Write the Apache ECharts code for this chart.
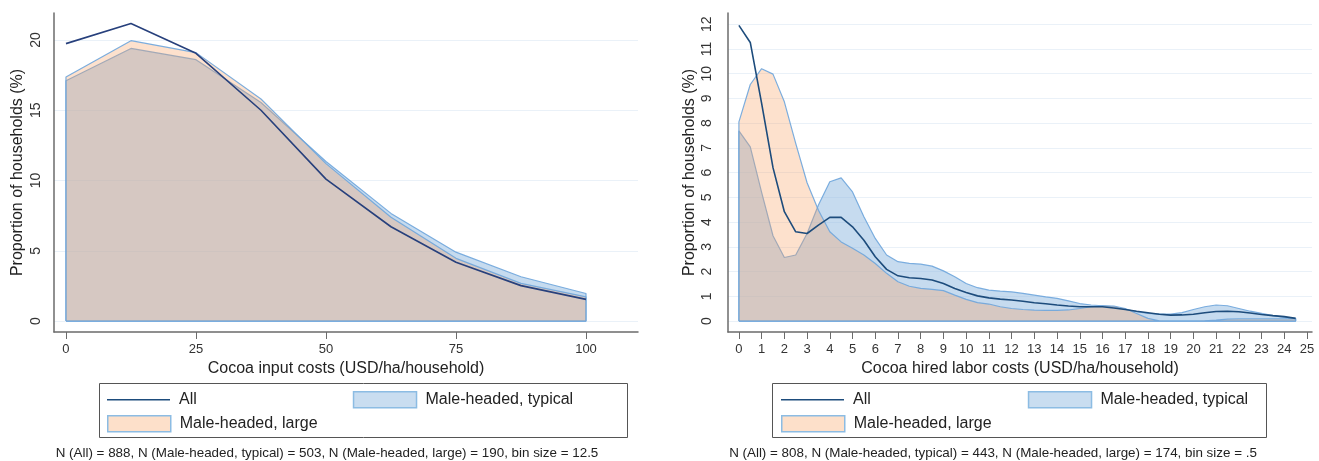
<!DOCTYPE html>
<html>
<head>
<meta charset="utf-8">
<script src="https://cdn.jsdelivr.net/npm/echarts@6/dist/echarts.min.js"></script>
<style>
  html, body { margin: 0; padding: 0; background: #fff; }
  #chart { width: 1319px; height: 461px; }
</style>
</head>
<body>
<div id="chart"></div>
<script>
// left panel: cocoa input costs, bin size 12.5
var inputBins = [0, 12.5, 25, 37.5, 50, 62.5, 75, 87.5, 100];
var inputAll = [19.74, 21.17, 19.05, 15.0, 10.1, 6.71, 4.18, 2.52, 1.54];
var inputTypical = [17.1, 19.4, 18.6, 15.55, 11.35, 7.66, 4.9, 3.15, 1.96];
var inputLarge = [17.37, 19.95, 19.1, 15.8, 11.2, 7.38, 4.46, 2.68, 1.72];
var inputXTicks = [0, 25, 50, 75, 100];
var inputYTicks = [0, 5, 10, 15, 20];

// right panel: cocoa hired labor costs, bin size .5
var laborBins = [0, 0.5, 1, 1.5, 2, 2.5, 3, 3.5, 4, 4.5, 5, 5.5, 6, 6.5, 7, 7.5, 8, 8.5, 9, 9.5,
  10, 10.5, 11, 11.5, 12, 12.5, 13, 13.5, 14, 14.5, 15, 15.5, 16, 16.5, 17, 17.5, 18, 18.5, 19, 19.5,
  20, 20.5, 21, 21.5, 22, 22.5, 23, 23.5, 24, 24.5];
var laborAll = [11.95, 11.26, 8.8, 6.2, 4.42, 3.61, 3.54, 3.88, 4.19, 4.19, 3.81, 3.27, 2.6, 2.09, 1.83, 1.75, 1.72, 1.66, 1.52, 1.32,
  1.16, 1.02, 0.94, 0.89, 0.85, 0.8, 0.74, 0.7, 0.65, 0.61, 0.58, 0.58, 0.58, 0.53, 0.47, 0.4, 0.34, 0.28, 0.24, 0.25,
  0.28, 0.34, 0.39, 0.4, 0.38, 0.33, 0.27, 0.22, 0.18, 0.11];
var laborTypical = [7.69, 7.04, 5.2, 3.45, 2.57, 2.67, 3.54, 4.69, 5.63, 5.79, 5.22, 4.22, 3.34, 2.67, 2.4, 2.33, 2.3, 2.22, 2.03, 1.79,
  1.52, 1.35, 1.25, 1.21, 1.18, 1.12, 1.05, 0.98, 0.92, 0.82, 0.71, 0.65, 0.62, 0.58, 0.48, 0.38, 0.31, 0.28, 0.28, 0.34,
  0.47, 0.58, 0.65, 0.62, 0.51, 0.4, 0.31, 0.22, 0.15, 0.11];
var laborLarge = [8.05, 9.56, 10.2, 9.98, 8.86, 7.18, 5.59, 4.48, 3.61, 3.2, 2.94, 2.67, 2.33, 1.93, 1.59, 1.41, 1.32, 1.28, 1.23, 1.05,
  0.88, 0.75, 0.69, 0.58, 0.51, 0.47, 0.44, 0.43, 0.43, 0.45, 0.51, 0.58, 0.62, 0.61, 0.51, 0.31, 0.11, 0.01, 0, 0,
  0, 0.01, 0.04, 0.08, 0.09, 0.09, 0.09, 0.09, 0.09, 0.1];
var laborXTicks = [0, 1, 2, 3, 4, 5, 6, 7, 8, 9, 10, 11, 12, 13, 14, 15, 16, 17, 18, 19, 20, 21, 22, 23, 24, 25];
var laborYTicks = [0, 1, 2, 3, 4, 5, 6, 7, 8, 9, 10, 11, 12];

var FONT = '"Liberation Sans", Arial, sans-serif';
var BLUE_FILL = 'rgba(141,183,223,0.5)';
var ORANGE_FILL = 'rgba(249,163,100,0.32)';
var EDGE = 'rgba(110,165,220,0.9)';

function pairs(xs, ys) {
    return xs.map(function (x, i) { return [x, ys[i]]; });
}

// closed outline: up the first bin, along the values, down the last bin, back on the baseline
function areaData(xs, ys) {
    var last = xs[xs.length - 1];
    return [[xs[0], 0]].concat(pairs(xs, ys), [[last, 0], [xs[0], 0]]);
}

function areaSeries(name, idx, data, fill, z) {
    return {
        name: name, type: 'line', xAxisIndex: idx, yAxisIndex: idx,
        data: data, symbol: 'none', showSymbol: false, z: z,
        lineStyle: { color: EDGE, width: 1.2 },
        itemStyle: { color: EDGE },
        areaStyle: { color: fill, origin: 0, opacity: 1 }
    };
}

function lineSeries(idx, data, color) {
    return {
        name: 'All', type: 'line', xAxisIndex: idx, yAxisIndex: idx,
        data: data, symbol: 'none', showSymbol: false, z: 5,
        lineStyle: { color: color, width: 1.6 },
        itemStyle: { color: color }
    };
}

function xAxis(idx, min, max, ticks, name) {
    return {
        type: 'value', gridIndex: idx, min: min, max: max,
        name: name, nameLocation: 'middle', nameGap: 27,
        nameTextStyle: { fontFamily: FONT, fontSize: 16, color: '#222' },
        axisLine: { onZero: false, lineStyle: { color: '#6b6b6b', width: 1.5 } },
        axisTick: { show: true, length: 7, customValues: ticks, lineStyle: { color: '#6b6b6b' } },
        axisLabel: { customValues: ticks, margin: 11, fontFamily: FONT, fontSize: 13, color: '#333' },
        splitLine: { show: false }
    };
}

function yAxis(idx, min, max, ticks, margin, gap) {
    return {
        type: 'value', gridIndex: idx, min: min, max: max,
        name: 'Proportion of households (%)', nameLocation: 'middle', nameGap: gap,
        nameTextStyle: { fontFamily: FONT, fontSize: 16, color: '#222' },
        axisLine: { show: true, onZero: false, lineStyle: { color: '#6b6b6b', width: 1.5 } },
        axisTick: { show: false, customValues: ticks },
        axisLabel: { customValues: ticks, rotate: 90, margin: margin, fontFamily: FONT, fontSize: 14, color: '#333' },
        splitLine: { show: true, lineStyle: { color: '#eaf1f8', width: 1 } }
    };
}

function legendRow(left, top, names, gap) {
    return {
        left: left, top: top, orient: 'horizontal', padding: 0,
        itemGap: gap, itemWidth: 63, itemHeight: 16, selectedMode: false,
        textStyle: { fontFamily: FONT, fontSize: 16, color: '#222', padding: [0, 0, 0, 4] },
        data: names
    };
}

// plain line swatch for "All" (no marker)
var allItem = { name: 'All', icon: 'path://M0,0L63,0L63,1.6L0,1.6Z', itemStyle: { color: '#1d4c7c' } };
var typicalItem = { name: 'Male-headed, typical', icon: 'rect',
    itemStyle: { color: '#c9ddf0', borderColor: '#8cbce3', borderWidth: 1.5 } };
var largeItem = { name: 'Male-headed, large', icon: 'rect',
    itemStyle: { color: '#fde0ca', borderColor: '#8cbce3', borderWidth: 1.5 } };

var chart = echarts.init(document.getElementById('chart'), null, { renderer: 'canvas' });

chart.setOption({
    animation: false,
    backgroundColor: '#fff',
    grid: [
        { left: 54, top: 13, width: 584, height: 319 },
        { left: 728, top: 13, width: 584, height: 319 }
    ],
    xAxis: [
        xAxis(0, -2.3, 110, inputXTicks, 'Cocoa input costs (USD/ha/household)'),
        xAxis(1, -0.48, 25.22, laborXTicks, 'Cocoa hired labor costs (USD/ha/household)')
    ],
    yAxis: [
        yAxis(0, -0.78, 21.92, inputYTicks, 11, 28),
        yAxis(1, -0.44, 12.45, laborYTicks, 14, 30)
    ],
    legend: [
        legendRow(107, 391, [allItem, typicalItem], 156),
        legendRow(107, 415, [largeItem], 10),
        legendRow(781, 391, [allItem, typicalItem], 157),
        legendRow(781, 415, [largeItem], 10)
    ],
    graphic: [
        { type: 'rect', shape: { x: 99.5, y: 383.5, width: 528, height: 54 },
          style: { fill: null, stroke: '#555', lineWidth: 1 } },
        { type: 'rect', shape: { x: 772.5, y: 383.5, width: 494, height: 54 },
          style: { fill: null, stroke: '#555', lineWidth: 1 } },
        { type: 'text', x: 327, y: 453, style: { text: 'N (All) = 888, N (Male-headed, typical) = 503, N (Male-headed, large) = 190, bin size = 12.5',
          font: '13.4px ' + FONT, fill: '#222', textAlign: 'center', textVerticalAlign: 'middle' } },
        { type: 'text', x: 993, y: 453, style: { text: 'N (All) = 808, N (Male-headed, typical) = 443, N (Male-headed, large) = 174, bin size = .5',
          font: '13.4px ' + FONT, fill: '#222', textAlign: 'center', textVerticalAlign: 'middle' } }
    ],
    series: [
        areaSeries('Male-headed, typical', 0, areaData(inputBins, inputTypical), BLUE_FILL, 2),
        areaSeries('Male-headed, large', 0, areaData(inputBins, inputLarge), ORANGE_FILL, 3),
        lineSeries(0, pairs(inputBins, inputAll), '#27407c'),
        areaSeries('Male-headed, typical', 1, areaData(laborBins, laborTypical), BLUE_FILL, 2),
        areaSeries('Male-headed, large', 1, areaData(laborBins, laborLarge), ORANGE_FILL, 3),
        lineSeries(1, pairs(laborBins, laborAll), '#1d4c7c')
    ]
});
</script>
</body>
</html>
